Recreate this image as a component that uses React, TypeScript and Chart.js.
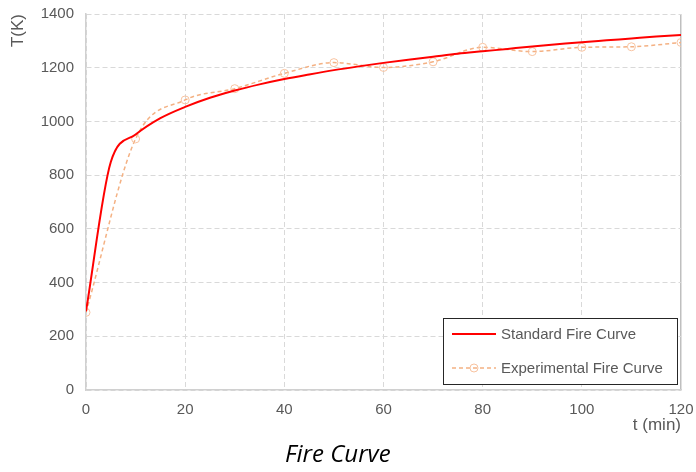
import React, { useEffect, useRef } from "react";
import { Chart, registerables } from "chart.js";

Chart.register(...registerables);

// Standard fire curve, sampled every 5 minutes (K)
const standardMinutes = [
  0, 5, 10, 15, 20, 25, 30, 35, 40, 45, 50, 55, 60, 65, 70, 75, 80, 85, 90, 95,
  100, 105, 110, 115, 120,
];
const standardK = [
  293, 849, 951, 1012, 1054, 1088, 1115, 1138, 1158, 1175, 1191, 1205, 1218,
  1230, 1241, 1252, 1261, 1270, 1279, 1287, 1295, 1302, 1309, 1316, 1322,
];

// Measured furnace temperature, every 10 minutes (K)
const testMinutes = [0, 10, 20, 30, 40, 50, 60, 70, 80, 90, 100, 110, 120];
const testK = [289, 935, 1080, 1122, 1179, 1219, 1201, 1222, 1276, 1260, 1276, 1278, 1294];

const seriesLabels = ["Standard Fire Curve", "Experimental Fire Curve"];
const xAxisTitle = "t (min)";
const yAxisTitle = "T(K)";
const caption = "Fire Curve";

const FONT = "'Liberation Sans', Arial, sans-serif";
const TEXT_COLOR = "#595959";
const GRID_COLOR = "#d9d9d9";
const STD_COLOR = "#ff0000";
const EXP_COLOR = "#f4b183";

// Boxed legend in the lower-right corner of the plot area
const insideLegend = {
  id: "insideLegend",
  afterDatasetsDraw(chart: any) {
    const { ctx, chartArea } = chart;
    const boxW = 234;
    const boxH = 66;
    const x0 = chartArea.right - 4 - boxW;
    const y0 = chartArea.bottom - 6 - boxH;
    ctx.save();
    ctx.fillStyle = "#ffffff";
    ctx.fillRect(x0, y0, boxW, boxH);
    ctx.strokeStyle = "#262626";
    ctx.lineWidth = 1;
    ctx.strokeRect(x0 + 0.5, y0 + 0.5, boxW, boxH);

    const rows = [y0 + 16, y0 + 50];
    chart.data.datasets.forEach((ds: any, i: number) => {
      const y = rows[i];
      const lx1 = x0 + 9;
      const lx2 = x0 + 53;
      ctx.save();
      ctx.strokeStyle = ds.borderColor;
      ctx.lineWidth = ds.borderWidth;
      ctx.setLineDash(ds.borderDash || []);
      ctx.beginPath();
      ctx.moveTo(lx1, y);
      ctx.lineTo(lx2, y);
      ctx.stroke();
      if (ds.pointRadius) {
        ctx.setLineDash([]);
        ctx.lineWidth = ds.pointBorderWidth;
        ctx.strokeStyle = ds.pointBorderColor;
        ctx.beginPath();
        ctx.arc((lx1 + lx2) / 2, y, ds.pointRadius, 0, Math.PI * 2);
        ctx.stroke();
      }
      ctx.restore();
      ctx.fillStyle = TEXT_COLOR;
      ctx.font = `15px ${FONT}`;
      ctx.textBaseline = "middle";
      ctx.textAlign = "left";
      ctx.fillText(ds.label, x0 + 58, y + 1);
    });
    ctx.restore();
  },
};

export default function App() {
  const canvasRef = useRef<HTMLCanvasElement | null>(null);

  useEffect(() => {
    const canvas = canvasRef.current;
    if (!canvas) return;

    const chart = new Chart(canvas, {
      type: "line",
      data: {
        datasets: [
          {
            label: seriesLabels[0],
            data: standardMinutes.map((t, i) => ({ x: t, y: standardK[i] })),
            borderColor: STD_COLOR,
            backgroundColor: STD_COLOR,
            borderWidth: 2,
            pointRadius: 0,
            cubicInterpolationMode: "monotone",
          },
          {
            label: seriesLabels[1],
            data: testMinutes.map((t, i) => ({ x: t, y: testK[i] })),
            borderColor: EXP_COLOR,
            backgroundColor: "rgba(255,255,255,0)",
            borderWidth: 1.5,
            borderDash: [4, 3],
            pointRadius: 4,
            pointBorderWidth: 1,
            pointBorderColor: "#f8c3a0",
            pointBackgroundColor: "rgba(255,255,255,0)",
            cubicInterpolationMode: "monotone",
          },
        ],
      },
      options: {
        responsive: false,
        animation: false,
        layout: { padding: { left: 8, top: 14, right: 15, bottom: 34 } },
        plugins: {
          legend: { display: false },
          tooltip: { enabled: false },
        },
        scales: {
          x: {
            type: "linear",
            min: 0,
            max: 120,
            ticks: {
              stepSize: 20,
              padding: 11,
              color: TEXT_COLOR,
              font: { family: FONT, size: 15 },
              callback: (v: any) => String(v),
            },
            grid: {
              drawTicks: false,
              color: (ctx: any) => (ctx.tick && ctx.tick.value === 120 ? "#bfbfbf" : GRID_COLOR),
              lineWidth: (ctx: any) => (ctx.tick && ctx.tick.value === 120 ? 1.5 : 1),
            },
            border: {
              display: true,
              color: "#d0d0d0",
              width: 1.5,
              dash: (ctx: any) => (ctx.tick && ctx.tick.value === 120 ? [] : [5, 3]),
            },
            title: {
              display: true,
              text: xAxisTitle,
              align: "end",
              color: TEXT_COLOR,
              font: { family: FONT, size: 17 },
              padding: { top: 0, bottom: 2 },
            },
            afterFit: (scale: any) => {
              scale.height = 48;
              scale.paddingLeft = 0;
              scale.paddingRight = 0;
            },
          },
          y: {
            type: "linear",
            min: 0,
            max: 1400,
            ticks: {
              stepSize: 200,
              padding: 12,
              color: TEXT_COLOR,
              font: { family: FONT, size: 15 },
              callback: (v: any) => String(v),
            },
            grid: {
              drawTicks: false,
              color: GRID_COLOR,
              lineWidth: 1,
            },
            border: {
              display: true,
              color: "#d0d0d0",
              width: 1.5,
              dash: [5, 3],
            },
            title: {
              display: true,
              text: yAxisTitle,
              align: "end",
              color: TEXT_COLOR,
              font: { family: FONT, size: 17 },
              padding: { top: 0, bottom: 0 },
            },
            afterFit: (scale: any) => {
              scale.width = 78;
              scale.paddingTop = 0;
              scale.paddingBottom = 0;
            },
          },
        },
      },
      plugins: [insideLegend],
    });

    return () => chart.destroy();
  }, []);

  return (
    <div
      style={{
        position: "fixed",
        left: 0,
        top: 0,
        width: 696,
        height: 472,
        background: "#ffffff",
      }}
    >
      <canvas ref={canvasRef} width={696} height={472} style={{ display: "block" }} />
      <div
        style={{
          position: "absolute",
          left: 285,
          top: 437,
          fontFamily: "'Open Sans', 'Noto Sans', sans-serif",
          fontStyle: "italic",
          fontSize: 24,
          color: "#000000",
          lineHeight: "32px",
          whiteSpace: "nowrap",
        }}
      >
        {caption}
      </div>
    </div>
  );
}
